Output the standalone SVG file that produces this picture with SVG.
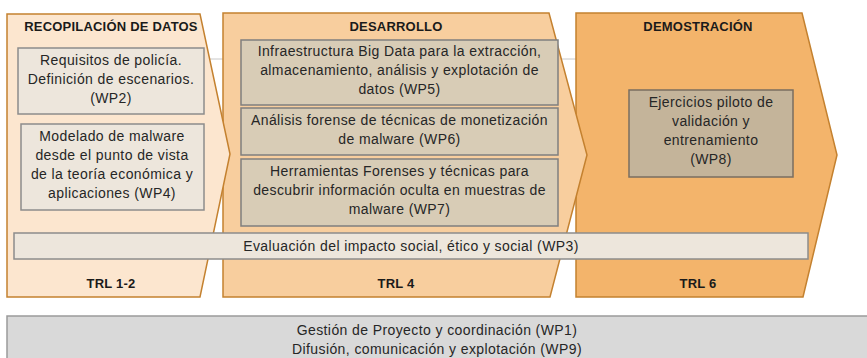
<svg xmlns="http://www.w3.org/2000/svg" width="867" height="358" viewBox="0 0 867 358">
<style>
text{font-family:"Liberation Sans",Arial,sans-serif;fill:#262626;text-anchor:middle}
.t{font-size:14px;letter-spacing:0.4px}
.h{font-size:13px;font-weight:bold;fill:#1a1a1a;letter-spacing:0.2px}
.chev{stroke:#C4812F;stroke-width:1.5}
.lb{fill:#EDE6DC;stroke:#8C8C8C;stroke-width:1.5}
.mb{fill:#D8CCB6;stroke:#7F7F7F;stroke-width:1.5}
.db{fill:#C4B49A;stroke:#7A6E60;stroke-width:1.5}
</style>
<rect width="867" height="358" fill="#fff"/>
<g id="connectors">
<line x1="195" y1="59" x2="580" y2="59" stroke="#C8C8C8" stroke-width="1"/>
</g>
<g id="demostracion">
<polygon class="chev" points="576,13 802,13 837,155 803,297 576,297" fill="#F3B46B"/>
<text class="h" x="698" y="31">DEMOSTRACIÓN</text>
<text class="h" x="698" y="288">TRL 6</text>
</g>
<g id="desarrollo">
<polygon class="chev" points="223,13 549,13 587,155 550,297 223,297" fill="#F8CE9E"/>
<text class="h" x="396" y="31">DESARROLLO</text>
<text class="h" x="396" y="288">TRL 4</text>
</g>
<g id="recopilacion">
<polygon class="chev" points="7,14 200,14 230,154 200,297 7,297" fill="#FCE6CF"/>
<text class="h" x="111" y="31">RECOPILACIÓN DE DATOS</text>
<text class="h" x="111" y="288">TRL 1-2</text>
</g>
<g id="wp2">
<rect class="lb" x="18" y="48" width="186" height="66"/>
<text class="t" x="111" y="65">Requisitos de policía.</text>
<text class="t" x="111" y="84">Definición de escenarios.</text>
<text class="t" x="111" y="103">(WP2)</text>
</g>
<g id="wp4">
<rect class="lb" x="21" y="124" width="183" height="86"/>
<text class="t" x="112" y="141">Modelado de malware</text>
<text class="t" x="112" y="160">desde el punto de vista</text>
<text class="t" x="112" y="179">de la teoría económica y</text>
<text class="t" x="112" y="198">aplicaciones (WP4)</text>
</g>
<g id="wp5">
<rect class="mb" x="241" y="40" width="317" height="65"/>
<text class="t" x="399.5" y="56">Infraestructura Big Data para la extracción,</text>
<text class="t" x="399.5" y="75">almacenamiento, análisis y explotación de</text>
<text class="t" x="399.5" y="94">datos (WP5)</text>
</g>
<g id="wp6">
<rect class="mb" x="241" y="108" width="317" height="47"/>
<text class="t" x="399.5" y="125">Análisis forense de técnicas de monetización</text>
<text class="t" x="399.5" y="144">de malware (WP6)</text>
</g>
<g id="wp7">
<rect class="mb" x="241" y="159" width="317" height="67"/>
<text class="t" x="399.5" y="176">Herramientas Forenses y técnicas para</text>
<text class="t" x="399.5" y="195">descubrir información oculta en muestras de</text>
<text class="t" x="399.5" y="214">malware (WP7)</text>
</g>
<g id="wp8">
<rect class="db" x="629" y="90" width="164" height="87"/>
<text class="t" x="711" y="107">Ejercicios piloto de</text>
<text class="t" x="711" y="126">validación y</text>
<text class="t" x="711" y="145">entrenamiento</text>
<text class="t" x="711" y="164">(WP8)</text>
</g>
<g id="wp3">
<rect class="lb" x="14" y="233" width="794" height="26"/>
<text class="t" x="411" y="251">Evaluación del impacto social, ético y social (WP3)</text>
</g>
<g id="wp1-wp9">
<rect x="7" y="316" width="870" height="50" fill="#D9D9D9" stroke="#9A9A9A" stroke-width="1.5"/>
<text class="t" x="437" y="335">Gestión de Proyecto y coordinación (WP1)</text>
<text class="t" x="437" y="354">Difusión, comunicación y explotación (WP9)</text>
</g>
</svg>
